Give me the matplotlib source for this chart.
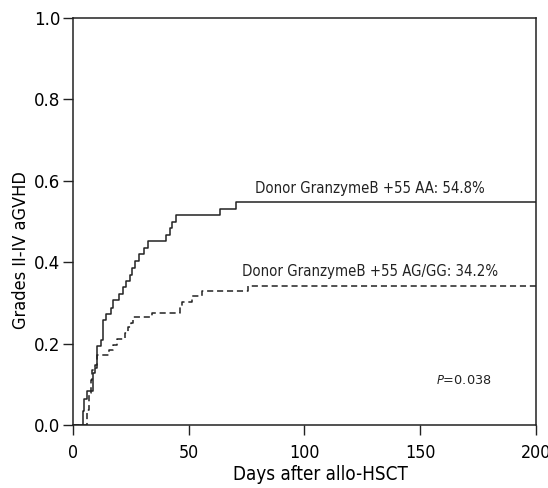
import matplotlib
matplotlib.use("Agg")
import matplotlib.pyplot as plt

plt.rcParams['font.family'] = ['DejaVu Sans']
plt.rcParams['font.stretch'] = 'condensed'

# Donor GranzymeB +55 AA (solid)
aa_days = [0, 4.2, 5.0, 6.0, 8.8, 9.5, 10.5, 12.0, 13.0, 14.5,
           16.3, 17.5, 20.0, 21.5, 23.0, 24.5, 25.5, 27.0,
           28.4, 30.5, 32.5, 40.2, 42.0, 43.0, 44.5, 63.6, 70.3, 200]
aa_cif = [0.0, 0.034, 0.064, 0.083, 0.128, 0.14, 0.195, 0.21, 0.258, 0.273,
          0.288, 0.307, 0.321, 0.338, 0.355, 0.369, 0.387, 0.404,
          0.42, 0.436, 0.452, 0.468, 0.485, 0.5, 0.516, 0.532, 0.548, 0.548]

# Donor GranzymeB +55 AG/GG (dashed)
ag_days = [0, 6.2, 7.0, 8.0, 8.4, 9.5, 10.5, 15.6, 17.3, 19.0,
           22.7, 23.6, 25.0, 26.0, 34.1, 46.2, 47.3, 51.3, 55.6, 75.5, 200]
ag_cif = [0.0, 0.037, 0.078, 0.111, 0.135, 0.147, 0.172, 0.184, 0.197, 0.211,
          0.225, 0.24, 0.251, 0.265, 0.276, 0.289, 0.302, 0.316, 0.329, 0.342, 0.342]

labels = ['Donor GranzymeB +55 AA: 54.8%', 'Donor GranzymeB +55 AG/GG: 34.2%']
p_value = '0.038'

fig = plt.figure(figsize=(5.48, 4.88), dpi=100)
ax = fig.add_axes([0.133, 0.129, 0.845, 0.834])

ax.step(aa_days, aa_cif, where='post', color='#222222', lw=1.1)
ax.step(ag_days, ag_cif, where='post', color='#222222', lw=1.1, linestyle=(0, (4, 2.5)))

ax.text(78.5, 0.58, labels[0], fontsize=10.7, va='center', color='#222222')
ax.text(73, 0.378, labels[1], fontsize=10.7, va='center', color='#222222')
ax.text(157, 0.11, r'$\it{P}$=' + p_value, fontsize=9.3, va='center', color='#222222',
        stretch='normal')

ax.set_xlim(0, 200)
ax.set_ylim(0, 1.0)
ax.set_xticks([0, 50, 100, 150, 200])
ax.set_yticks([0.0, 0.2, 0.4, 0.6, 0.8, 1.0])
ax.set_yticklabels(['0.0', '0.2', '0.4', '0.6', '0.8', '1.0'])
ax.tick_params(labelsize=13.3, length=7.5, width=1, direction='out', color='#222222')
ax.tick_params(axis='x', pad=6, labelsize=12.8)
ax.tick_params(axis='y', pad=1.5)
ax.set_xlabel('Days after allo-HSCT', fontsize=13.5)
ax.set_ylabel('Grades II-IV aGVHD', fontsize=13)
ax.xaxis.set_label_coords(0.535, -0.098)
ax.yaxis.set_label_coords(-0.092, 0.43)
for s in ax.spines.values():
    s.set_linewidth(1.1)
    s.set_color('#222222')

fig.savefig('out.png', dpi=100)
